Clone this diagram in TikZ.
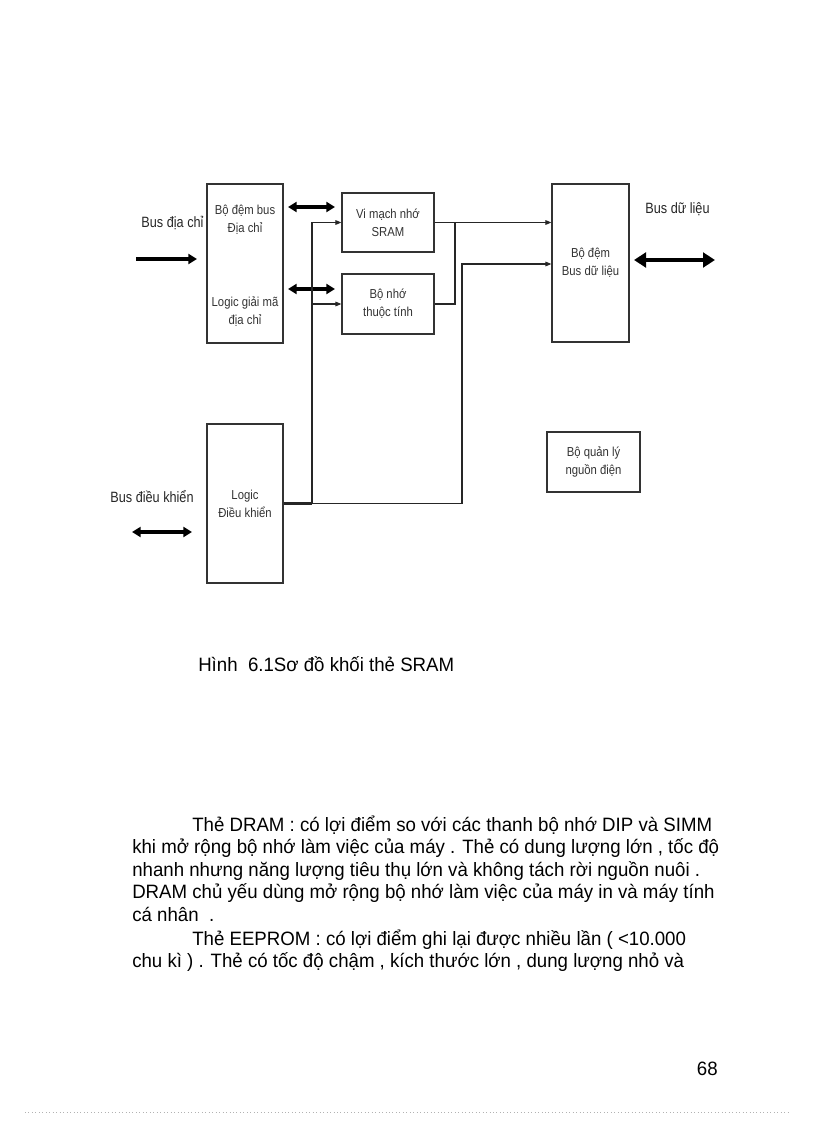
\documentclass[tikz,border=0pt]{standalone}
\usepackage{fontspec}
\setmainfont{Liberation Sans}
\newfontfamily\condfont[FakeStretch=0.87]{Liberation Sans}
\newfontfamily\busfont[FakeStretch=0.85]{Liberation Sans}
\newfontfamily\parafont[FakeStretch=0.965]{Liberation Sans}
\usetikzlibrary{arrows.meta}
\begin{document}
\begin{tikzpicture}[x=0.75pt,y=-0.75pt,
  box/.style={draw=black!80,line width=0.9pt,inner sep=0pt},
  lbl/.style={font=\condfont\fontsize{9.75}{13.5}\selectfont,align=center,inner sep=0pt,text=black!80},
  buslbl/.style={font=\busfont\fontsize{11.2}{13}\selectfont,inner sep=0pt,text=black!85},
  conn/.style={draw=black!85,line width=0.8pt,-{Triangle[length=4.5pt,width=3.5pt]}},
  wire/.style={draw=black!85,line width=0.8pt},
  busone/.style={line width=2.5pt,-{Triangle[length=6.5pt,width=7.5pt]}},
  bustwo/.style={line width=2.5pt,{Triangle[length=6.5pt,width=7.5pt]}-{Triangle[length=6.5pt,width=7.5pt]}},
  busbig/.style={line width=3.2pt,{Triangle[length=9pt,width=11pt]}-{Triangle[length=9pt,width=11pt]}},
  para/.style={font=\parafont\fontsize{14.5}{17}\selectfont,anchor=base west,inner sep=0pt}
]
\useasboundingbox (0,0) rectangle (816,1123);

% boxes
\node[box,minimum width=57pt,minimum height=119.25pt] (addr) at (245,263.5) {};
\node[box,minimum width=69pt,minimum height=44.25pt,lbl] (sram) at (388,222.5) {Vi mạch nhớ\\SRAM};
\node[box,minimum width=69pt,minimum height=45pt,lbl] (attr) at (388,304) {Bộ nhớ\\thuộc tính};
\node[box,minimum width=57.75pt,minimum height=118.5pt,lbl] (databuf) at (590.5,263) {Bộ đệm\\Bus dữ liệu};
\node[box,minimum width=57pt,minimum height=119.25pt] (ctrl) at (245,503.5) {};
\node[box,minimum width=69.75pt,minimum height=45pt,lbl] (power) at (593.5,462) {Bộ quản lý\\nguồn điện};

% texts inside tall boxes
\node[lbl] (t1) at (245,219.5) {Bộ đệm bus\\Địa chỉ};
\node[lbl] (t2) at (245,311.5) {Logic giải mã\\địa chỉ};
\node[lbl] (t3) at (245,504) {Logic\\Điều khiển};

% bus labels
\node[buslbl] (lba) at (172.5,223) {Bus địa chỉ};
\node[buslbl] (lbd) at (677.5,209) {Bus dữ liệu};
\node[buslbl] (lbc) at (152,497) {Bus điều khiển};

% bus arrows
\coordinate (ba1) at (136,259);
\coordinate (ba2) at (197,259);
\draw[busone] (ba1) -- (ba2);
\coordinate (d1a) at (288,207);
\coordinate (d1b) at (335,207);
\draw[bustwo] (d1a) -- (d1b);
\coordinate (d2a) at (288,289);
\coordinate (d2b) at (335,289);
\draw[bustwo] (d2a) -- (d2b);
\coordinate (d3a) at (634,260);
\coordinate (d3b) at (715,260);
\draw[busbig] (d3a) -- (d3b);
\coordinate (d4a) at (132,532);
\coordinate (d4b) at (192,532);
\draw[bustwo] (d4a) -- (d4b);

% control lines
\coordinate (bj) at (312,503.5);
\coordinate (vtop) at (312,222.5);
\coordinate (dj) at (462,264);
\coordinate (oj) at (455,222.5);
\draw[wire,line width=1.6pt] (ctrl.east) -- (bj);
\draw[wire] (bj) -- (vtop);
\draw[conn] (vtop) -- (sram.west);
\draw[conn] (bj |- attr.west) -- (attr.west);
\draw[conn] (bj) -| (dj) -- (databuf.west |- dj);
\draw[conn] (sram.east) -- (databuf.west |- sram.east);
\draw[wire] (attr.east) -| (oj);

% caption
\node[para] (cap) at (198,671) {Hình\ \ 6.1Sơ đồ khối thẻ SRAM};

% paragraph
\node[para] (p1) at (192,831) {Thẻ DRAM : có lợi điểm so với các thanh bộ nhớ\ DIP và SIMM};
\node[para] (p2) at (132,853.5) {khi mở rộng bộ nhớ làm việc của máy . Thẻ có dung lượng lớn , tốc độ};
\node[para] (p3) at (132,876) {nhanh\ nhưng năng lượng tiêu thụ\ lớn và không tách rời nguồn nuôi .};
\node[para] (p4) at (132,898.5) {DRAM chủ yếu dùng mở rộng bộ nhớ làm việc của máy in và máy tính};
\node[para] (p5) at (132,921) {cá nhân\ \ .};
\node[para] (p6) at (192,945) {Thẻ EEPROM : có lợi điểm ghi lại được nhiều lần ( <10.000};
\node[para] (p7) at (132,967.5) {chu kì ) . Thẻ có tốc độ chậm , kích thước lớn , dung lượng nhỏ và};

% page number
\node[para,anchor=base east] (pg) at (718,1075) {68};

% bottom dotted rule
\coordinate (r1) at (25,1112);
\coordinate (r2) at (790,1112);
\draw[black!30,line width=0.6pt,dotted] (r1) -- (r2);
\end{tikzpicture}
\end{document}
